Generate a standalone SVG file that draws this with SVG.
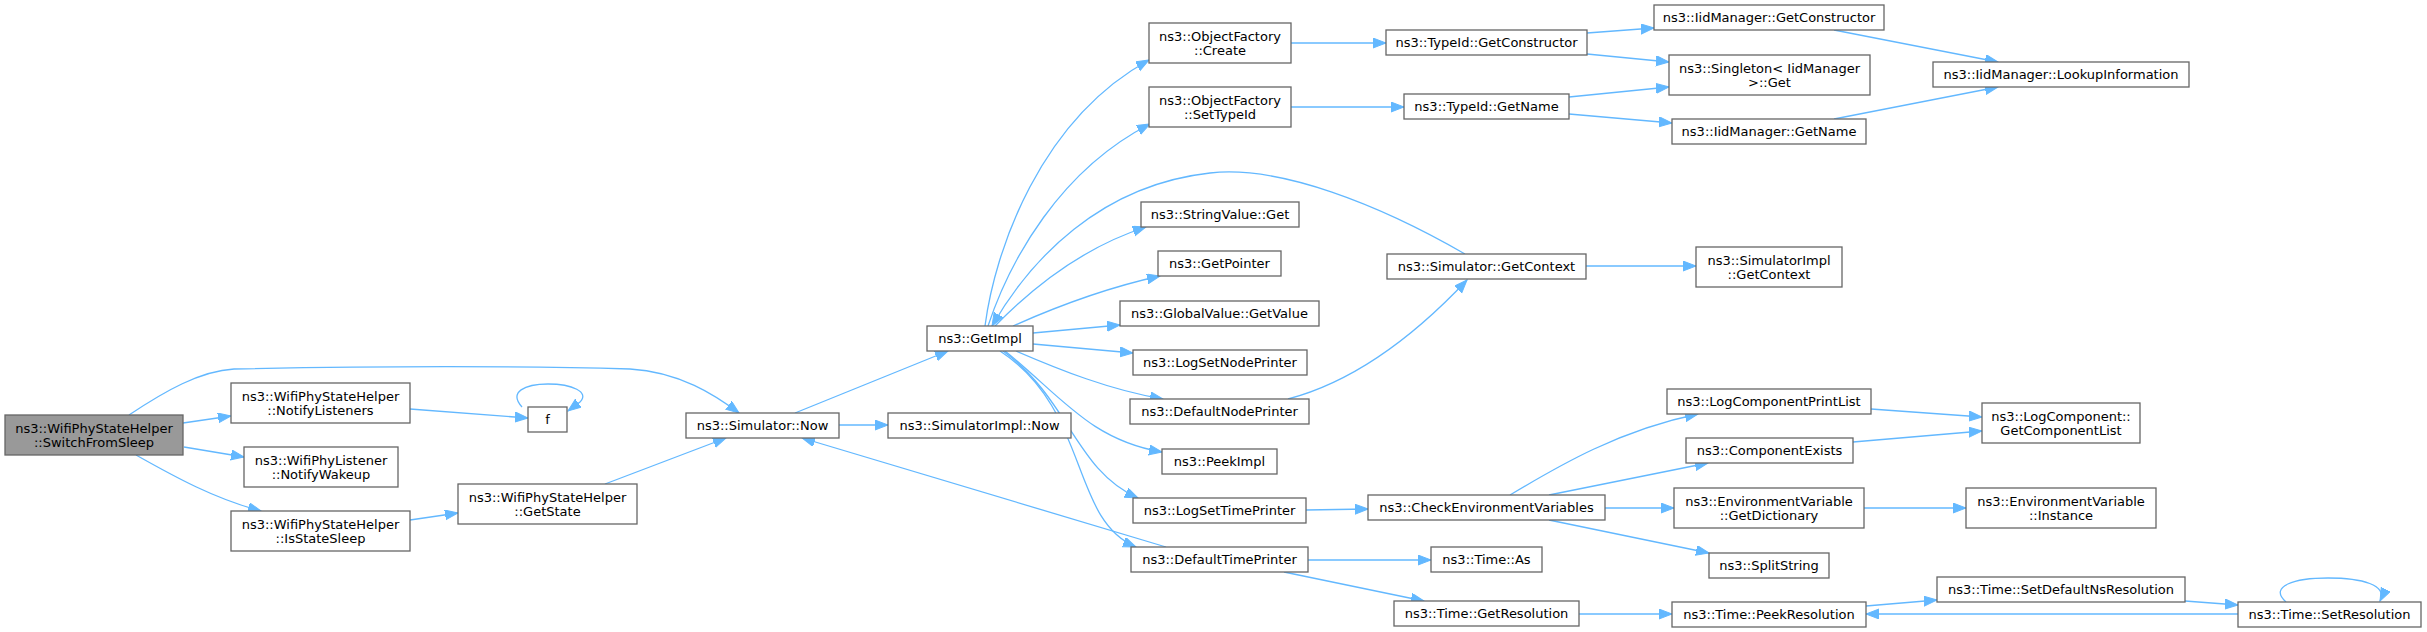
<svg xmlns="http://www.w3.org/2000/svg" width="2427" height="632" viewBox="0 0 2427 632">
<defs>
<style>
.n rect{fill:#ffffff;stroke:#666666;stroke-width:1.3}
.n.root rect{fill:#999999}
.n text{font-family:"DejaVu Sans","Liberation Sans",sans-serif;font-size:13px;fill:#000000;text-anchor:middle}
.e path{fill:none;stroke:#63b8ff;stroke-width:1.3;marker-end:url(#ah)}
</style>
<marker id="ah" markerUnits="userSpaceOnUse" markerWidth="14" markerHeight="11" refX="13" refY="5" orient="auto" viewBox="0 0 14 11">
<path d="M0,0 L13,5 L0,10 Z" fill="#63b8ff" stroke="#63b8ff" stroke-width="1"/>
</marker>
</defs>
<rect width="2427" height="632" fill="#ffffff"/>
<g id="edges" class="e">
<path d="M129,415 C165,391 200,371 234,369 C380,366 520,366 630,369 C680,372 715,395 739,413"/>
<path d="M183,423 L231,416"/>
<path d="M184,447 L244,457"/>
<path d="M136,455 C175,477 215,499 261,511"/>
<path d="M410,409 L528,418"/>
<path d="M522,407 C508,392 525,384 548,384 C572,384 590,392 580,402 L568,411"/>
<path d="M410,520 L458,513"/>
<path d="M605,484 L726,438"/>
<path d="M795,413 L948,351"/>
<path d="M839,425 L888,425"/>
<path d="M1166,547 L802,438"/>
<path d="M985,326 C995,250 1040,120 1149,60"/>
<path d="M988,326 C1010,260 1060,170 1150,124"/>
<path d="M1465,254 C1380,205 1280,165 1210,173 C1100,185 1030,260 992,326"/>
<path d="M995,326 C1040,280 1090,245 1146,227"/>
<path d="M1013,326 C1060,305 1110,287 1160,276"/>
<path d="M1033,333 L1120,325"/>
<path d="M1033,344 L1133,353"/>
<path d="M1016,351 C1060,370 1110,390 1163,399"/>
<path d="M1005,351 C1060,395 1090,440 1162,452"/>
<path d="M1003,351 C1070,400 1075,470 1138,498"/>
<path d="M1000,351 C1090,410 1070,520 1136,547"/>
<path d="M1288,399 C1360,380 1420,330 1467,280"/>
<path d="M1586,266 L1696,266"/>
<path d="M1291,43 L1386,43"/>
<path d="M1291,107 L1404,107"/>
<path d="M1587,33 L1654,28"/>
<path d="M1587,54 L1669,62"/>
<path d="M1569,97 L1669,87"/>
<path d="M1569,114 L1672,123"/>
<path d="M1834,30 L1998,62"/>
<path d="M1834,119 L1998,87"/>
<path d="M1306,510 L1368,509"/>
<path d="M1308,560 L1431,560"/>
<path d="M1284,572 L1424,601"/>
<path d="M1579,614 L1672,614"/>
<path d="M1866,606 L1937,600"/>
<path d="M2185,601 L2238,605"/>
<path d="M2238,614 L1866,614"/>
<path d="M2286,602 C2268,586 2295,578 2328,578 C2362,578 2388,585 2380,601"/>
<path d="M1510,495 C1560,465 1620,430 1698,414"/>
<path d="M1549,495 L1708,463"/>
<path d="M1605,508 L1674,508"/>
<path d="M1549,520 L1709,553"/>
<path d="M1871,409 L1982,417"/>
<path d="M1853,442 L1982,431"/>
<path d="M1864,508 L1966,508"/>
</g>
<g id="n0" class="n root"><rect x="5" y="415" width="178" height="40"/><text x="94" y="432.5">ns3::WifiPhyStateHelper</text><text x="94" y="446.5">::SwitchFromSleep</text></g>
<g id="n1" class="n"><rect x="231" y="383" width="179" height="40"/><text x="320.5" y="400.5">ns3::WifiPhyStateHelper</text><text x="320.5" y="414.5">::NotifyListeners</text></g>
<g id="n2" class="n"><rect x="528" y="407" width="39" height="25"/><text x="547.5" y="424">f</text></g>
<g id="n3" class="n"><rect x="244" y="447" width="154" height="40"/><text x="321" y="464.5">ns3::WifiPhyListener</text><text x="321" y="478.5">::NotifyWakeup</text></g>
<g id="n4" class="n"><rect x="231" y="511" width="179" height="40"/><text x="320.5" y="528.5">ns3::WifiPhyStateHelper</text><text x="320.5" y="542.5">::IsStateSleep</text></g>
<g id="n5" class="n"><rect x="458" y="484" width="179" height="40"/><text x="547.5" y="501.5">ns3::WifiPhyStateHelper</text><text x="547.5" y="515.5">::GetState</text></g>
<g id="n6" class="n"><rect x="686" y="413" width="153" height="25"/><text x="762.5" y="430">ns3::Simulator::Now</text></g>
<g id="n7" class="n"><rect x="927" y="326" width="106" height="25"/><text x="980" y="343">ns3::GetImpl</text></g>
<g id="n8" class="n"><rect x="888" y="413" width="183" height="25"/><text x="979.5" y="430">ns3::SimulatorImpl::Now</text></g>
<g id="n9" class="n"><rect x="1149" y="23" width="142" height="40"/><text x="1220" y="40.5">ns3::ObjectFactory</text><text x="1220" y="54.5">::Create</text></g>
<g id="n10" class="n"><rect x="1149" y="87" width="142" height="40"/><text x="1220" y="104.5">ns3::ObjectFactory</text><text x="1220" y="118.5">::SetTypeId</text></g>
<g id="n11" class="n"><rect x="1141" y="202" width="158" height="25"/><text x="1220" y="219">ns3::StringValue::Get</text></g>
<g id="n12" class="n"><rect x="1158" y="251" width="123" height="25"/><text x="1219.5" y="268">ns3::GetPointer</text></g>
<g id="n13" class="n"><rect x="1120" y="301" width="199" height="25"/><text x="1219.5" y="318">ns3::GlobalValue::GetValue</text></g>
<g id="n14" class="n"><rect x="1133" y="350" width="174" height="25"/><text x="1220" y="367">ns3::LogSetNodePrinter</text></g>
<g id="n15" class="n"><rect x="1130" y="399" width="179" height="25"/><text x="1219.5" y="416">ns3::DefaultNodePrinter</text></g>
<g id="n16" class="n"><rect x="1162" y="449" width="115" height="25"/><text x="1219.5" y="466">ns3::PeekImpl</text></g>
<g id="n17" class="n"><rect x="1133" y="498" width="173" height="25"/><text x="1219.5" y="515">ns3::LogSetTimePrinter</text></g>
<g id="n18" class="n"><rect x="1131" y="547" width="177" height="25"/><text x="1219.5" y="564">ns3::DefaultTimePrinter</text></g>
<g id="n19" class="n"><rect x="1386" y="30" width="201" height="25"/><text x="1486.5" y="47">ns3::TypeId::GetConstructor</text></g>
<g id="n20" class="n"><rect x="1404" y="94" width="165" height="25"/><text x="1486.5" y="111">ns3::TypeId::GetName</text></g>
<g id="n21" class="n"><rect x="1387" y="254" width="199" height="25"/><text x="1486.5" y="271">ns3::Simulator::GetContext</text></g>
<g id="n22" class="n"><rect x="1654" y="5" width="230" height="25"/><text x="1769" y="22">ns3::IidManager::GetConstructor</text></g>
<g id="n23" class="n"><rect x="1669" y="55" width="201" height="40"/><text x="1769.5" y="72.5">ns3::Singleton&lt; IidManager</text><text x="1769.5" y="86.5">&gt;::Get</text></g>
<g id="n24" class="n"><rect x="1672" y="119" width="194" height="25"/><text x="1769" y="136">ns3::IidManager::GetName</text></g>
<g id="n25" class="n"><rect x="1696" y="247" width="146" height="40"/><text x="1769" y="264.5">ns3::SimulatorImpl</text><text x="1769" y="278.5">::GetContext</text></g>
<g id="n26" class="n"><rect x="1933" y="62" width="256" height="25"/><text x="2061" y="79">ns3::IidManager::LookupInformation</text></g>
<g id="n27" class="n"><rect x="1368" y="495" width="237" height="25"/><text x="1486.5" y="512">ns3::CheckEnvironmentVariables</text></g>
<g id="n28" class="n"><rect x="1431" y="547" width="111" height="25"/><text x="1486.5" y="564">ns3::Time::As</text></g>
<g id="n29" class="n"><rect x="1394" y="601" width="185" height="25"/><text x="1486.5" y="618">ns3::Time::GetResolution</text></g>
<g id="n30" class="n"><rect x="1667" y="389" width="204" height="25"/><text x="1769" y="406">ns3::LogComponentPrintList</text></g>
<g id="n31" class="n"><rect x="1686" y="438" width="167" height="25"/><text x="1769.5" y="455">ns3::ComponentExists</text></g>
<g id="n32" class="n"><rect x="1674" y="488" width="190" height="40"/><text x="1769" y="505.5">ns3::EnvironmentVariable</text><text x="1769" y="519.5">::GetDictionary</text></g>
<g id="n33" class="n"><rect x="1709" y="553" width="120" height="25"/><text x="1769" y="570">ns3::SplitString</text></g>
<g id="n34" class="n"><rect x="1672" y="602" width="194" height="25"/><text x="1769" y="619">ns3::Time::PeekResolution</text></g>
<g id="n35" class="n"><rect x="1982" y="403" width="158" height="40"/><text x="2061" y="420.5">ns3::LogComponent::</text><text x="2061" y="434.5">GetComponentList</text></g>
<g id="n36" class="n"><rect x="1966" y="488" width="190" height="40"/><text x="2061" y="505.5">ns3::EnvironmentVariable</text><text x="2061" y="519.5">::Instance</text></g>
<g id="n37" class="n"><rect x="1937" y="577" width="248" height="25"/><text x="2061" y="594">ns3::Time::SetDefaultNsResolution</text></g>
<g id="n38" class="n"><rect x="2238" y="602" width="183" height="25"/><text x="2329.5" y="619">ns3::Time::SetResolution</text></g>
</svg>
